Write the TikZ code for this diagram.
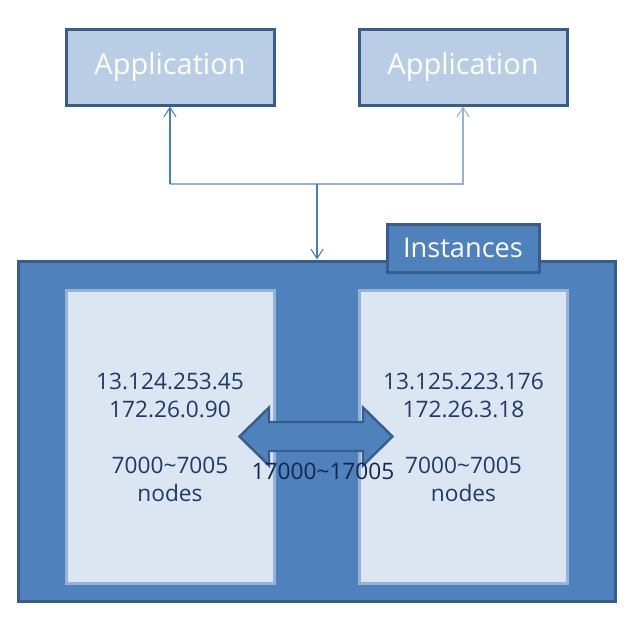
\documentclass[tikz,border=0pt]{standalone}
\usepackage{fontspec}
\setmainfont{Open Sans}
\usetikzlibrary{arrows.meta,calc}
\definecolor{boxfill}{HTML}{4F81BD}
\definecolor{boxline}{HTML}{385D8A}
\definecolor{appfill}{HTML}{B9CDE5}
\definecolor{innerfill}{HTML}{DCE6F2}
\definecolor{innerline}{HTML}{95B3D7}
\definecolor{txtblue}{HTML}{1F3A64}
\definecolor{lbltxt}{HTML}{10284F}
\definecolor{darkconn}{HTML}{4A7EBB}
\definecolor{lightconn}{HTML}{95B3D7}
\tikzset{
  appbox/.style={draw=boxline, line width=2.25pt, fill=appfill, text=white,
    minimum width=156pt, minimum height=57pt, inner sep=0pt,
    font=\fontsize{21.7}{26}\selectfont},
  bigbox/.style={draw=boxline, line width=2.25pt, fill=boxfill,
    minimum width=447.75pt, minimum height=255pt, inner sep=0pt},
  tagbox/.style={draw=boxline, line width=2.25pt, fill=boxfill, text=white,
    minimum width=114pt, minimum height=36pt, inner sep=0pt,
    font=\fontsize{20.4}{24}\selectfont},
  innerbox/.style={draw=innerline, line width=2.25pt, fill=innerfill,
    minimum width=156pt, minimum height=219.75pt, inner sep=0pt},
  innertext/.style={text=txtblue, align=center, inner sep=0pt,
    font=\fontsize{17}{21}\selectfont},
  lbl/.style={text=lbltxt, inner sep=0pt, font=\fontsize{17}{21}\selectfont},
  conn/.style={line width=0.8pt, -{Straight Barb[length=7pt,width=9pt,line width=0.8pt]}},
  dconn/.style={conn, draw=darkconn},
  lconn/.style={conn, draw=lightconn},
  dbarrow/.style={draw=boxline, line width=1.8pt, fill=boxfill, line join=miter},
}
\begin{document}
\begin{tikzpicture}[x=0.75pt,y=-0.75pt]
\useasboundingbox (0,0) rectangle (633,619);
% applications
\node[appbox] (app1) at (170,67) {Application};
\node[appbox] (app2) at (463,67) {Application};
% instances container
\node[bigbox] (big) at (316.5,431) {};
\node[tagbox] (tag) at (463,248) {Instances};
\node[innerbox] (left) at (170,436.5) {};
\node[innerbox] (right) at (463,436.5) {};
\node[innertext] (ltext) at (170,437) {13.124.253.45\\172.26.0.90\\[21pt]7000\char`~7005\\nodes};
\node[innertext] (rtext) at (463.5,437) {13.125.223.176\\172.26.3.18\\[21pt]7000\char`~7005\\nodes};
% connectors
\coordinate (j) at (317,184);
\draw[line width=0.8pt, draw=lightconn] (j) -- (j -| app1);
\draw[dconn] (j -| app1) -- (app1.south);
\draw[lconn] (j) -| (app2.south);
\draw[dconn] (j) -- (j |- big.north);
% double arrow
\coordinate (da) at (316,436.5);
\draw[dbarrow] ($(da)+(-76.5,0)$) -- ++(29.5,-29) -- ++(0,14.5) -- ++(94,0) -- ++(0,-14.5)
  -- ++(29.5,29) -- ++(-29.5,29) -- ++(0,-14.5) -- ++(-94,0) -- ++(0,14.5) -- cycle;
\node[lbl] (port) at (323,471) {17000\char`~17005};
\end{tikzpicture}
\end{document}
